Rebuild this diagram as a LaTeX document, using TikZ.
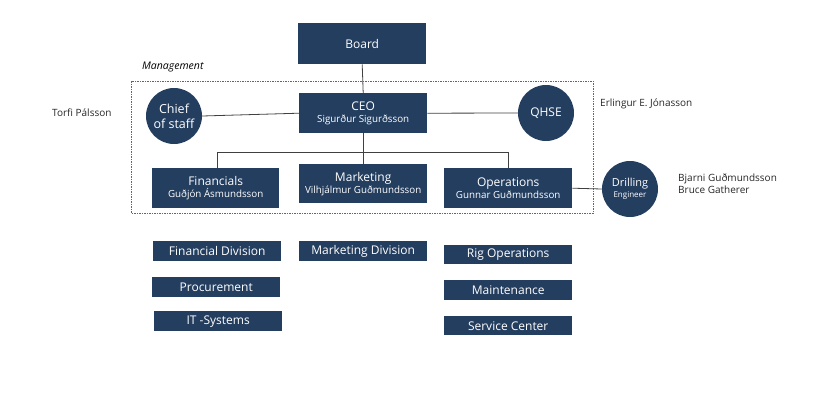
\documentclass[tikz,border=0pt]{standalone}
\usepackage{fontspec}
\setmainfont{Open Sans}
\definecolor{navy}{RGB}{36,62,96}
\begin{document}
\begin{tikzpicture}[x=1pt,y=-1pt,
  box/.style={fill=navy,text=white,inner sep=0pt,anchor=north west},
  circ/.style={circle,fill=navy,text=white,minimum size=56pt,inner sep=0pt,align=center},
  link/.style={draw=black!75,line width=0.8pt},
  lbl/.style={font=\fontsize{10}{12}\selectfont,text=black!85,inner sep=0pt}]
\useasboundingbox (0,0) rectangle (822,402);
% management box
\draw[black!60,dash pattern=on 1.5pt off 1pt,line width=0.5pt] (131,81) rectangle (593,213);
\node[font=\fontsize{10.5}{12}\selectfont\itshape,anchor=west,inner sep=0pt] (mgmt) at (142,67) {Management};
% top
\node[box,minimum width=128pt,minimum height=41pt] (board) at (298,23) {};
\node[text=white,font=\fontsize{12}{14}\selectfont] at (board.center) {Board};
\node[box,minimum width=128pt,minimum height=40pt] (ceo) at (299,93) {};
\node[text=white,align=center,font=\fontsize{12}{13}\selectfont] at (ceo.center) {CEO\\[-1pt]{\fontsize{9.8}{11}\selectfont Sigurður Sigurðsson}};
\node[circ,font=\fontsize{12.5}{15}\selectfont] (chief) at (174,116) {Chief\\of staff};
\node[circ,font=\fontsize{12}{14}\selectfont] (qhse) at (546,113) {QHSE};
\node[box,minimum width=127pt,minimum height=40pt] (fin) at (152,168) {};
\node[text=white,align=center,font=\fontsize{12}{13}\selectfont] at (fin.center) {Financials\\[-1pt]{\fontsize{9.8}{11}\selectfont Guðjón Ásmundsson}};
\node[box,minimum width=128pt,minimum height=39pt] (mkt) at (299,164) {};
\node[text=white,align=center,font=\fontsize{12}{13}\selectfont] at (mkt.center) {Marketing\\[-1pt]{\fontsize{9.8}{11}\selectfont Vilhjálmur Guðmundsson}};
\node[box,minimum width=128pt,minimum height=40pt] (ops) at (444,168) {};
\node[text=white,align=center,font=\fontsize{12}{13}\selectfont] at (ops.center) {Operations\\[-1pt]{\fontsize{9.8}{11}\selectfont Gunnar Guðmundsson}};
\node[circ,font=\fontsize{11}{12}\selectfont] (drill) at (630,189) {Drilling\\[-1pt]{\fontsize{8}{9}\selectfont Engineer}};
% connectors
\draw[link] (board.south) -- (ceo.north);
\draw[link] (chief.east) -- (ceo.west);
\draw[link] (ceo.east) -- (qhse.west);
\coordinate (busL) at (217,152);
\coordinate (busR) at (508,152);
\draw[link] (ceo.south) -- (mkt.north);
\draw[link] (fin.north -| busL) -- (busL) -- (busR) -- (ops.north -| busR);
\draw[link] (ops.east) -- (drill.west);
% names
\node[lbl,anchor=west] (torfi) at (52,113) {Torfi Pálsson};
\node[lbl,anchor=west] (erl) at (600,104) {Erlingur E. Jónasson};
\node[lbl,anchor=west,align=left] (bj) at (678,184) {Bjarni Guðmundsson\\Bruce Gatherer};
% divisions
\tikzset{div/.style={box,minimum width=128pt,minimum height=20pt},
  divt/.style={text=white,font=\fontsize{12}{13}\selectfont}}
\node[div] (fd) at (153,241) {};
\node[divt] at (fd.center) {Financial Division};
\node[div] (pr) at (152,277) {};
\node[divt] at (pr.center) {Procurement};
\node[div] (it) at (154,311) {};
\node[divt] at (it.center) {IT -Systems};
\node[div] (md) at (299,241) {};
\node[divt] at (md.center) {Marketing Division};
\node[div,minimum height=19pt] (rig) at (444,245) {};
\node[divt] at (rig.center) {Rig Operations};
\node[div] (mt) at (444,280) {};
\node[divt] at (mt.center) {Maintenance};
\node[div,minimum height=19pt] (sc) at (444,316) {};
\node[divt] at (sc.center) {Service Center};
\end{tikzpicture}
\end{document}
